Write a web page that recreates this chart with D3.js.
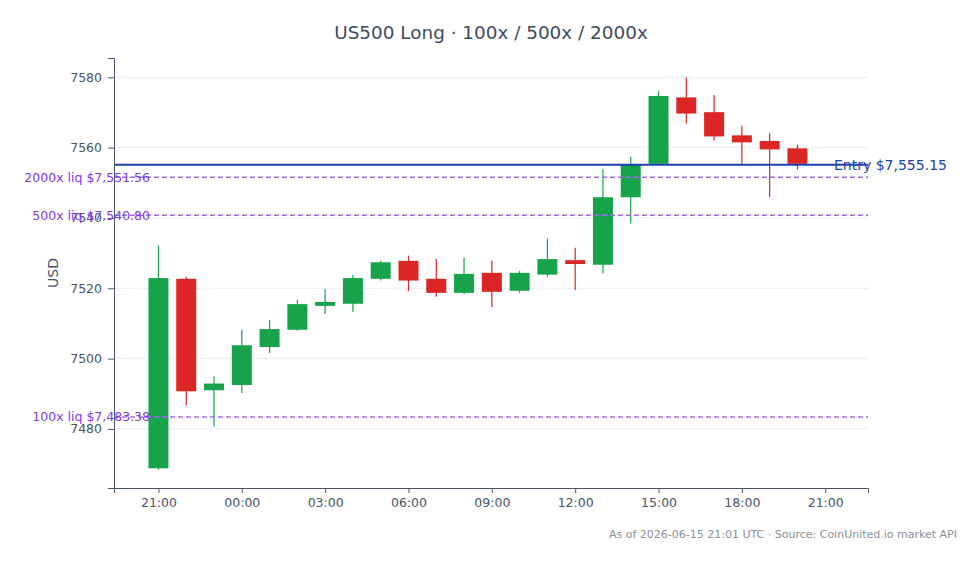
<!DOCTYPE html>
<html>
<head>
<meta charset="utf-8">
<script src="https://cdn.jsdelivr.net/npm/d3@7"></script>
<style>
  html, body { margin: 0; padding: 0; background: #fff; }
  svg { display: block; font-family: "DejaVu Sans", sans-serif; }
</style>
</head>
<body>
<svg id="chart" width="980" height="564"></svg>
<script>
// ---- data ----
const hours = ["2026-06-14T21:00Z","2026-06-14T22:00Z","2026-06-14T23:00Z","2026-06-15T00:00Z",
  "2026-06-15T01:00Z","2026-06-15T02:00Z","2026-06-15T03:00Z","2026-06-15T04:00Z",
  "2026-06-15T05:00Z","2026-06-15T06:00Z","2026-06-15T07:00Z","2026-06-15T08:00Z",
  "2026-06-15T09:00Z","2026-06-15T10:00Z","2026-06-15T11:00Z","2026-06-15T12:00Z",
  "2026-06-15T13:00Z","2026-06-15T14:00Z","2026-06-15T15:00Z","2026-06-15T16:00Z",
  "2026-06-15T17:00Z","2026-06-15T18:00Z","2026-06-15T19:00Z","2026-06-15T20:00Z"];
const opens  = [7468.8,7522.7,7491.0,7492.5,7503.3,7508.2,7515.0,7515.6,7522.7,7527.8,7522.7,7518.7,
                7524.4,7519.3,7523.9,7528.0,7526.7,7545.9,7555.4,7574.3,7570.1,7563.5,7561.9,7559.8];
const highs  = [7532.2,7523.3,7495.0,7508.2,7510.9,7516.7,7519.8,7523.8,7527.8,7529.3,7528.4,7528.7,
                7527.8,7524.9,7534.1,7531.5,7553.9,7557.4,7576.1,7580.0,7575.0,7566.2,7564.2,7560.8];
const lows   = [7468.4,7486.7,7480.7,7490.2,7501.6,7507.9,7512.7,7513.3,7522.2,7519.2,7517.6,7518.3,
                7514.7,7518.7,7523.3,7519.5,7524.2,7538.4,7555.0,7566.9,7562.0,7555.4,7546.0,7553.8];
const closes = [7522.9,7490.7,7492.9,7503.8,7508.4,7515.5,7516.1,7522.9,7527.4,7522.2,7518.7,7524.1,
                7519.0,7524.4,7528.3,7526.9,7545.9,7555.1,7574.7,7569.7,7563.2,7561.5,7559.5,7555.4];
const entryPrice = 7555.15;
const liqLabels = ["2000x", "500x", "100x"];
const liqPrices = [7551.56, 7540.80, 7483.38];
const yTicks = [7480, 7500, 7520, 7540, 7560, 7580];
const xTickHours = ["2026-06-14T21:00Z","2026-06-15T00:00Z","2026-06-15T03:00Z","2026-06-15T06:00Z",
  "2026-06-15T09:00Z","2026-06-15T12:00Z","2026-06-15T15:00Z","2026-06-15T18:00Z","2026-06-15T21:00Z"];
const titleText = "US500 Long \u00b7 100x / 500x / 2000x";
const footerText = "As of 2026-06-15 21:01 UTC \u00b7 Source: CoinUnited.io market API";

// ---- layout ----
const W = 980, H = 564;
const margin = { top: 58, right: 112, bottom: 76, left: 114 };
const iw = W - margin.left - margin.right, ih = H - margin.top - margin.bottom;

const candles = hours.map((h, i) => ({ t: new Date(h), o: opens[i], h: highs[i], l: lows[i], c: closes[i] }));
const HOUR = 3600 * 1000;

const svg = d3.select("#chart");
const g = svg.append("g").attr("transform", `translate(${margin.left},${margin.top})`);

const x = d3.scaleUtc()
  .domain([new Date(+candles[0].t - 1.6 * HOUR), new Date(+candles[candles.length - 1].t + 2.54 * HOUR)])
  .range([0, iw]);
const y = d3.scaleLinear().domain([7463.2, 7585.5]).range([ih, 0]);

// gridlines
g.append("g").selectAll("line").data(yTicks).join("line")
  .attr("x1", 0).attr("x2", iw)
  .attr("y1", d => y(d)).attr("y2", d => y(d))
  .attr("stroke", "#ebebf0").attr("stroke-width", 1);

// candles
const cw = 20;
const cg = g.append("g");
const col = d => d.c >= d.o ? "#16a34a" : "#dc2626";
cg.selectAll("line.wick").data(candles).join("line")
  .attr("class", "wick")
  .attr("x1", d => x(d.t)).attr("x2", d => x(d.t))
  .attr("y1", d => y(d.h)).attr("y2", d => y(d.l))
  .attr("stroke", col).attr("stroke-width", 1.2);
cg.selectAll("rect").data(candles).join("rect")
  .attr("x", d => x(d.t) - cw / 2)
  .attr("width", cw)
  .attr("y", d => y(Math.max(d.o, d.c)))
  .attr("height", d => Math.max(1.5, Math.abs(y(d.o) - y(d.c))))
  .attr("fill", col);

// liquidation lines
liqPrices.forEach((p, i) => {
  g.append("line")
    .attr("x1", 0).attr("x2", iw).attr("y1", y(p)).attr("y2", y(p))
    .attr("stroke", "#9d6cf2").attr("stroke-width", 1.5)
    .attr("stroke-dasharray", "5,3");
});

// entry line
g.append("line")
  .attr("x1", 0).attr("x2", iw).attr("y1", y(entryPrice)).attr("y2", y(entryPrice))
  .attr("stroke", "#1e40af").attr("stroke-width", 2);

// axes
const yAxis = d3.axisLeft(y).tickValues(yTicks).tickFormat(d3.format("d")).tickSizeOuter(0).tickSize(6);
const xAxis = d3.axisBottom(x).tickValues(xTickHours.map(h => new Date(h)))
  .tickFormat(d3.utcFormat("%H:%M")).tickSizeOuter(0).tickSize(5);

const ya = g.append("g").call(yAxis);
const xa = g.append("g").attr("transform", `translate(0,${ih})`).call(xAxis);
[ya, xa].forEach(a => {
  a.select(".domain").attr("stroke", "#4a5568").attr("stroke-width", 1);
  a.selectAll(".tick line").attr("stroke", "#4a5568");
  a.selectAll(".tick text").attr("fill", "#4a5568").style("font-size", "12.5px")
    .style("font-family", "DejaVu Sans, sans-serif");
});
ya.selectAll(".tick text").attr("x", -12);
xa.selectAll(".tick text").attr("y", 10);

// liquidation labels (over axis)
liqPrices.forEach((p, i) => {
  g.append("text")
    .attr("x", 36).attr("y", y(p)).attr("dy", "0.35em")
    .attr("text-anchor", "end")
    .attr("fill", "#7c3aed").style("font-size", "12.5px")
    .text(`${liqLabels[i]} liq $${d3.format(",.2f")(p)}`);
});

// entry label
g.append("text")
  .attr("x", iw - 34).attr("y", y(entryPrice)).attr("dy", "0.35em")
  .attr("fill", "#1e40af").style("font-size", "14px")
  .text(`Entry $${d3.format(",.2f")(entryPrice)}`);

// y label
svg.append("text")
  .attr("transform", `translate(57.5,${margin.top + ih / 2}) rotate(-90)`)
  .attr("text-anchor", "middle")
  .attr("fill", "#4a5568").style("font-size", "14px")
  .text("USD");

// title
svg.append("text")
  .attr("x", 491).attr("y", 38.5)
  .attr("text-anchor", "middle")
  .attr("fill", "#3f4b5c").style("font-size", "18.4px")
  .text(titleText);

// footer
svg.append("text")
  .attr("x", 957).attr("y", 538)
  .attr("text-anchor", "end")
  .attr("fill", "#8a9099").style("font-size", "11px")
  .text(footerText);
</script>
</body>
</html>
